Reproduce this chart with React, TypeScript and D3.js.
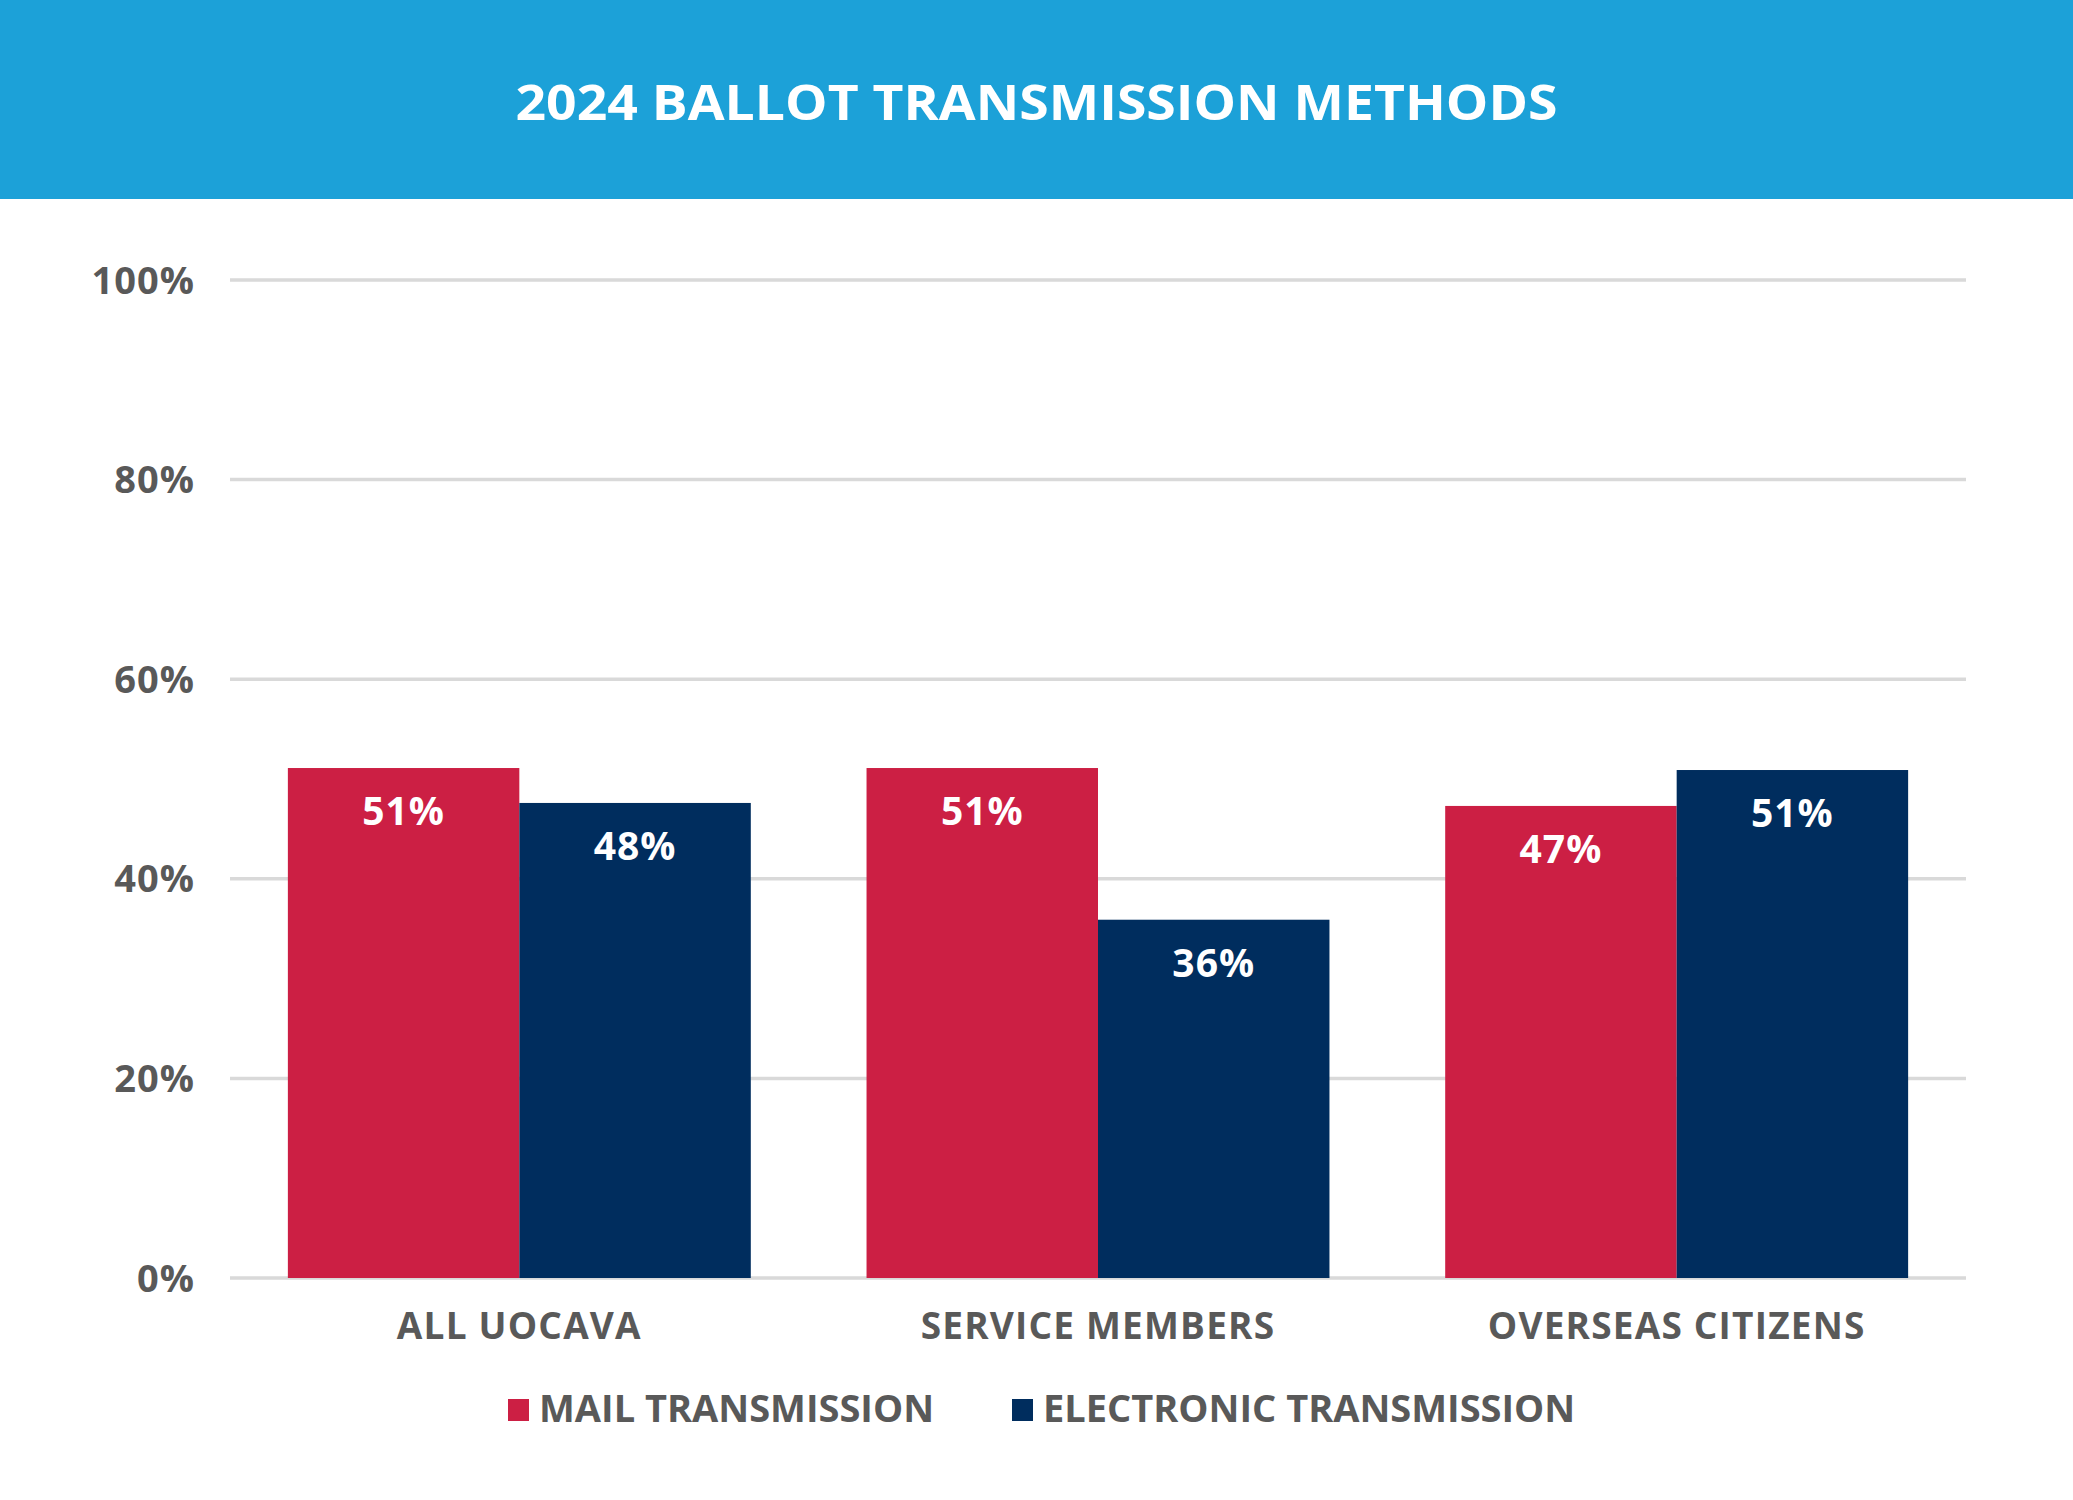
import * as d3 from "d3";
import React, { useEffect } from "react";

const categories = ["ALL UOCAVA", "SERVICE MEMBERS", "OVERSEAS CITIZENS"];
const seriesNames = ["MAIL TRANSMISSION", "ELECTRONIC TRANSMISSION"];
const mailValues = [51.1, 51.1, 47.3];
const electronicValues = [47.6, 35.9, 50.9];
const yTicks = [0, 20, 40, 60, 80, 100];

const colors = ["#cc1f44", "#002d5e"];
const font = "'Open Sans', sans-serif";
const grey = "#595959";

const W = 2073;
const H = 1500;
const margin = { top: 280, right: 107, bottom: 222, left: 230 };

const App = () => {
  useEffect(() => {
    document.body.style.margin = "0";
  }, []);

  const x = d3
    .scaleBand()
    .domain(categories)
    .range([margin.left, W - margin.right])
    .paddingInner(0.2)
    .paddingOuter(0.1);

  const xs = d3
    .scaleBand()
    .domain(seriesNames)
    .range([0, x.bandwidth()]);

  const y = d3
    .scaleLinear()
    .domain([0, 100])
    .range([H - margin.bottom, margin.top]);

  const series = [mailValues, electronicValues];

  return (
    <svg width={W} height={H} style={{ display: "block" }}>
      <rect x={0} y={0} width={W} height={H} fill="#ffffff" />
      <rect x={0} y={0} width={W} height={199} fill="#1ca1d8" />
      <text
        x={W / 2}
        y={120}
        textAnchor="middle"
        fill="#ffffff"
        fontFamily={font}
        fontWeight={700}
        fontSize={49}
        textLength={1042}
        lengthAdjust="spacingAndGlyphs"
      >
        2024 BALLOT TRANSMISSION METHODS
      </text>

      {/* gridlines + y labels */}
      {yTicks.map((t) => (
        <g key={t}>
          <line
            x1={margin.left}
            x2={W - margin.right}
            y1={y(t)}
            y2={y(t)}
            stroke="#d9d9d9"
            strokeWidth={3.5}
          />
          <text
            x={195}
            y={y(t)}
            dy="0.36em"
            textAnchor="end"
            fill={grey}
            fontFamily={font}
            fontWeight={700}
            fontSize={38}
            letterSpacing={1}
          >
            {t}%
          </text>
        </g>
      ))}

      {/* bars */}
      {categories.map((c, i) => (
        <g key={c} transform={`translate(${x(c)},0)`}>
          {series.map((vals, s) => (
            <g key={s}>
              <rect
                x={xs(seriesNames[s])}
                y={y(vals[i])}
                width={xs.bandwidth()}
                height={y(0) - y(vals[i])}
                fill={colors[s]}
              />
              <text
                x={(xs(seriesNames[s]) as number) + xs.bandwidth() / 2}
                y={y(vals[i]) + 57}
                textAnchor="middle"
                fill="#ffffff"
                fontFamily={font}
                fontWeight={700}
                fontSize={39}
                letterSpacing={1}
              >
                {Math.round(vals[i])}%
              </text>
            </g>
          ))}
          <text
            x={x.bandwidth() / 2}
            y={1339}
            textAnchor="middle"
            fill={grey}
            fontFamily={font}
            fontWeight={700}
            fontSize={37}
            letterSpacing={1.2}
          >
            {c}
          </text>
        </g>
      ))}

      {/* legend */}
      {seriesNames.map((n, s) => {
        const lx = [508, 1012][s];
        return (
          <g key={n}>
            <rect x={lx} y={1399} width={21} height={22} fill={colors[s]} />
            <text
              x={lx + 31}
              y={1422}
              fill={grey}
              fontFamily={font}
              fontWeight={700}
              fontSize={38}
            >
              {n}
            </text>
          </g>
        );
      })}
    </svg>
  );
};

export default App;
